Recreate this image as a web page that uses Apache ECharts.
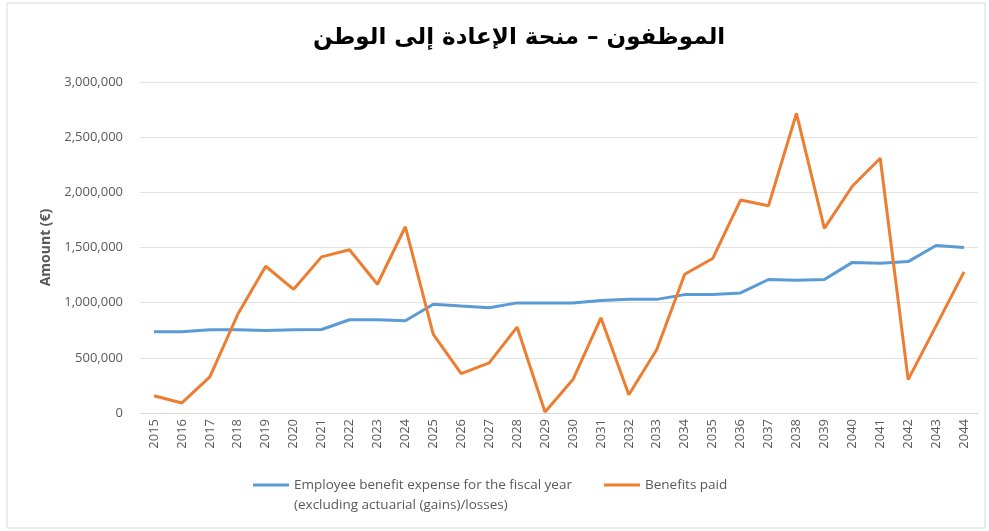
<!DOCTYPE html>
<html>
<head>
<meta charset="utf-8">
<script src="https://cdn.jsdelivr.net/npm/echarts@6/dist/echarts.min.js"></script>
<style>
html,body{margin:0;padding:0;background:#fff;}
#chart{width:989px;height:531px;}
</style>
</head>
<body>
<div id="chart"></div>
<script>
var years = ['2015','2016','2017','2018','2019','2020','2021','2022','2023','2024',
    '2025','2026','2027','2028','2029','2030','2031','2032','2033','2034',
    '2035','2036','2037','2038','2039','2040','2041','2042','2043','2044'];

var expense = [736000, 736000, 755000, 755000, 748000, 755000, 757000, 845000, 845000, 836000,
    985000, 969000, 954000, 998000, 998000, 998000, 1020000, 1030000, 1030000, 1073000,
    1075000, 1088000, 1210000, 1203000, 1210000, 1365000, 1358000, 1372000, 1518000, 1500000];

var paid = [157000, 91000, 327000, 894000, 1330000, 1121000, 1415000, 1479000, 1167000, 1688000,
    712000, 357000, 454000, 779000, 9000, 303000, 863000, 166000, 576000, 1257000,
    1400000, 1930000, 1879000, 2715000, 1673000, 2055000, 2309000, 303000, 790000, 1279000];

var yTicks = [0, 500000, 1000000, 1500000, 2000000, 2500000, 3000000];

var chartTitle = 'الموظفون – منحة الإعادة إلى الوطن';
var expenseName = 'Employee benefit expense for the fiscal year\n(excluding actuarial (gains)/losses)';
var paidName = 'Benefits paid';

var myChart = echarts.init(document.getElementById('chart'));

var options = {
    backgroundColor: '#fff',
    title: {
        text: chartTitle,
        left: 308,
        top: 22,
        textStyle: {
            fontFamily: 'DejaVu Sans',
            fontWeight: 'bold',
            fontSize: 23,
            color: '#000'
        }
    },
    graphic: [{
        type: 'rect',
        shape: { x: 7, y: 3, width: 978, height: 525 },
        style: { fill: 'none', stroke: '#d9d9d9', lineWidth: 1 },
        silent: true
    }],
    grid: {
        left: 140,
        right: 11,
        top: 82,
        bottom: 118
    },
    legend: {
        data: [expenseName, paidName],
        top: 455,
        left: 253,
        padding: 0,
        itemGap: 32,
        itemWidth: 36,
        itemHeight: 3,
        icon: 'rect',
        // blank first line keeps the icon level with the first text line
        formatter: function (name) {
            return name === paidName ? '\n' + name + '\n' : '\n' + name;
        },
        textStyle: {
            fontFamily: 'Open Sans',
            fontSize: 13.5,
            color: '#595959',
            lineHeight: 20
        }
    },
    xAxis: {
        type: 'category',
        data: years,
        boundaryGap: true,
        axisLine: { lineStyle: { color: '#d9d9d9' } },
        axisTick: { show: false },
        axisLabel: {
            rotate: 90,
            interval: 0,
            margin: 6,
            fontFamily: 'Open Sans',
            fontSize: 13,
            color: '#595959'
        }
    },
    yAxis: {
        type: 'value',
        min: yTicks[0],
        max: yTicks[yTicks.length - 1],
        interval: 500000,
        name: 'Amount (€)',
        nameLocation: 'middle',
        nameGap: 87,
        nameTextStyle: {
            fontFamily: 'Open Sans',
            fontSize: 14,
            fontWeight: 'bold',
            color: '#595959'
        },
        axisLine: { show: false },
        axisTick: { show: false },
        splitLine: { lineStyle: { color: '#e3e3e3' } },
        axisLabel: {
            margin: 17,
            fontFamily: 'Open Sans',
            fontSize: 13,
            color: '#595959',
            formatter: function (v) { return v.toLocaleString('en-US'); }
        }
    },
    series: [{
        name: expenseName,
        type: 'line',
        data: expense,
        symbol: 'none',
        lineStyle: { color: '#5B9BD5', width: 3 },
        itemStyle: { color: '#5B9BD5' }
    }, {
        name: paidName,
        type: 'line',
        data: paid,
        symbol: 'none',
        lineStyle: { color: '#ED7D31', width: 3 },
        itemStyle: { color: '#ED7D31' }
    }]
};

myChart.setOption(options, true);
</script>
</body>
</html>
